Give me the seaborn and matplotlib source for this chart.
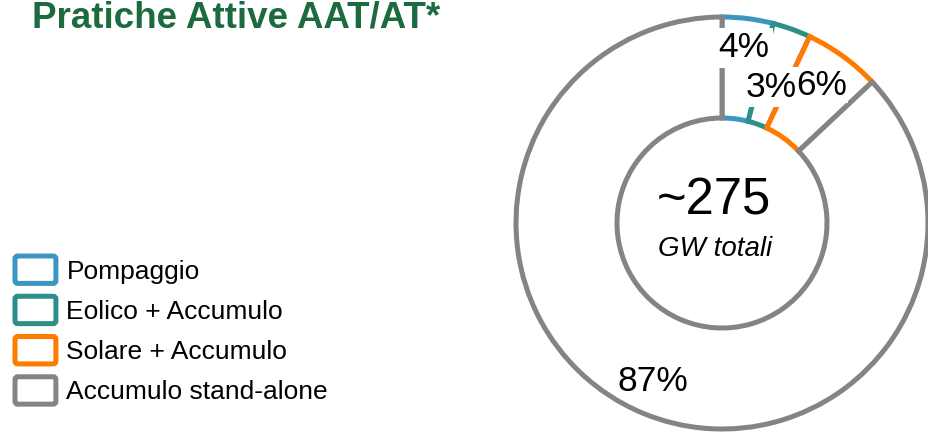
import matplotlib
matplotlib.use("Agg")
import matplotlib.pyplot as plt
import seaborn as sns
import numpy as np
from matplotlib.patches import Patch, FancyBboxPatch
from matplotlib.legend_handler import HandlerPatch

# ---- data ----
categories = ["Pompaggio", "Eolico + Accumulo", "Solare + Accumulo", "Accumulo stand-alone"]
shares = [4, 3, 6, 87]
pct_labels = ["4%", "3%", "6%", "87%"]
colors = ["#3B96C2", "#2C8F88", "#FF7A00", "#848484"]
title = "Pratiche Attive AAT/AT*"
center_value = "~275"
center_unit = "GW totali"

sns.set_theme(style="white")
plt.rcParams["font.family"] = ["Liberation Sans", "DejaVu Sans"]
plt.rcParams["text.color"] = "black"

W, H = 929, 433
fig = plt.figure(figsize=(W / 100, H / 100), dpi=100)

cx, cy, R = 722, 223, 206
ax = fig.add_axes([(cx - R) / W, (H - cy - R) / H, 2 * R / W, 2 * R / H])

inner = 105 / R
wedges, _ = ax.pie(
    shares, startangle=90, counterclock=False, radius=1,
    colors=["white"] * len(shares),
    wedgeprops=dict(width=1 - inner, linewidth=3.6, joinstyle="miter"),
)
for w, c in zip(wedges, colors):
    w.set_edgecolor(c)
    w.set_clip_on(False)
ax.set_xlim(-1, 1)
ax.set_ylim(-1, 1)
ax.set_aspect("equal")
ax.axis("off")

# label radii (fraction of outer radius) and white-box padding
label_r = [0.857, 0.70, 0.825, 0.84]
label_pad = [0.1, 0.1, 0.02, None]
cum = np.cumsum([0] + shares)
for i, lab in enumerate(pct_labels):
    mid = 90 - 360 * (cum[i] + shares[i] / 2) / 100
    th = np.deg2rad(mid)
    bb = None
    if label_pad[i] is not None:
        bb = dict(boxstyle=f"square,pad={label_pad[i]}", fc="white", ec="none")
    ax.text(label_r[i] * np.cos(th), label_r[i] * np.sin(th), lab,
            ha="center", va="center", fontsize=25.5, color="black", zorder=5,
            bbox=bb)

ax.text(-0.04, 0.105, center_value, ha="center", va="center", fontsize=36.5, color="black")
ax.text(-0.035, -0.125, center_unit, ha="center", va="center", fontsize=20,
        style="italic", color="black")

fig.text(32 / W, 1 - 28 / H, title, ha="left", va="baseline",
         fontsize=26.5, fontweight="bold", color="#1B6B3E")


class RoundBoxHandler(HandlerPatch):
    def create_artists(self, legend, orig_handle, xdescent, ydescent,
                       width, height, fontsize, trans):
        p = FancyBboxPatch((-xdescent, -ydescent), width, height,
                           boxstyle="round,pad=0,rounding_size=2",
                           fc="white", ec=orig_handle.get_edgecolor(),
                           lw=3.6, transform=trans)
        return [p]


handles = [Patch(facecolor="white", edgecolor=c) for c in colors]
leg = fig.legend(handles, categories, loc="upper left",
                 bbox_to_anchor=(15 / W, 1 - 256 / H),
                 frameon=False, fontsize=19, handlelength=1.55,
                 handleheight=1.22, handletextpad=0.4, labelspacing=0.48,
                 borderpad=0, borderaxespad=0,
                 handler_map={Patch: RoundBoxHandler()})
for t in leg.get_texts():
    t.set_color("black")

fig.savefig("out.png", dpi=100)
